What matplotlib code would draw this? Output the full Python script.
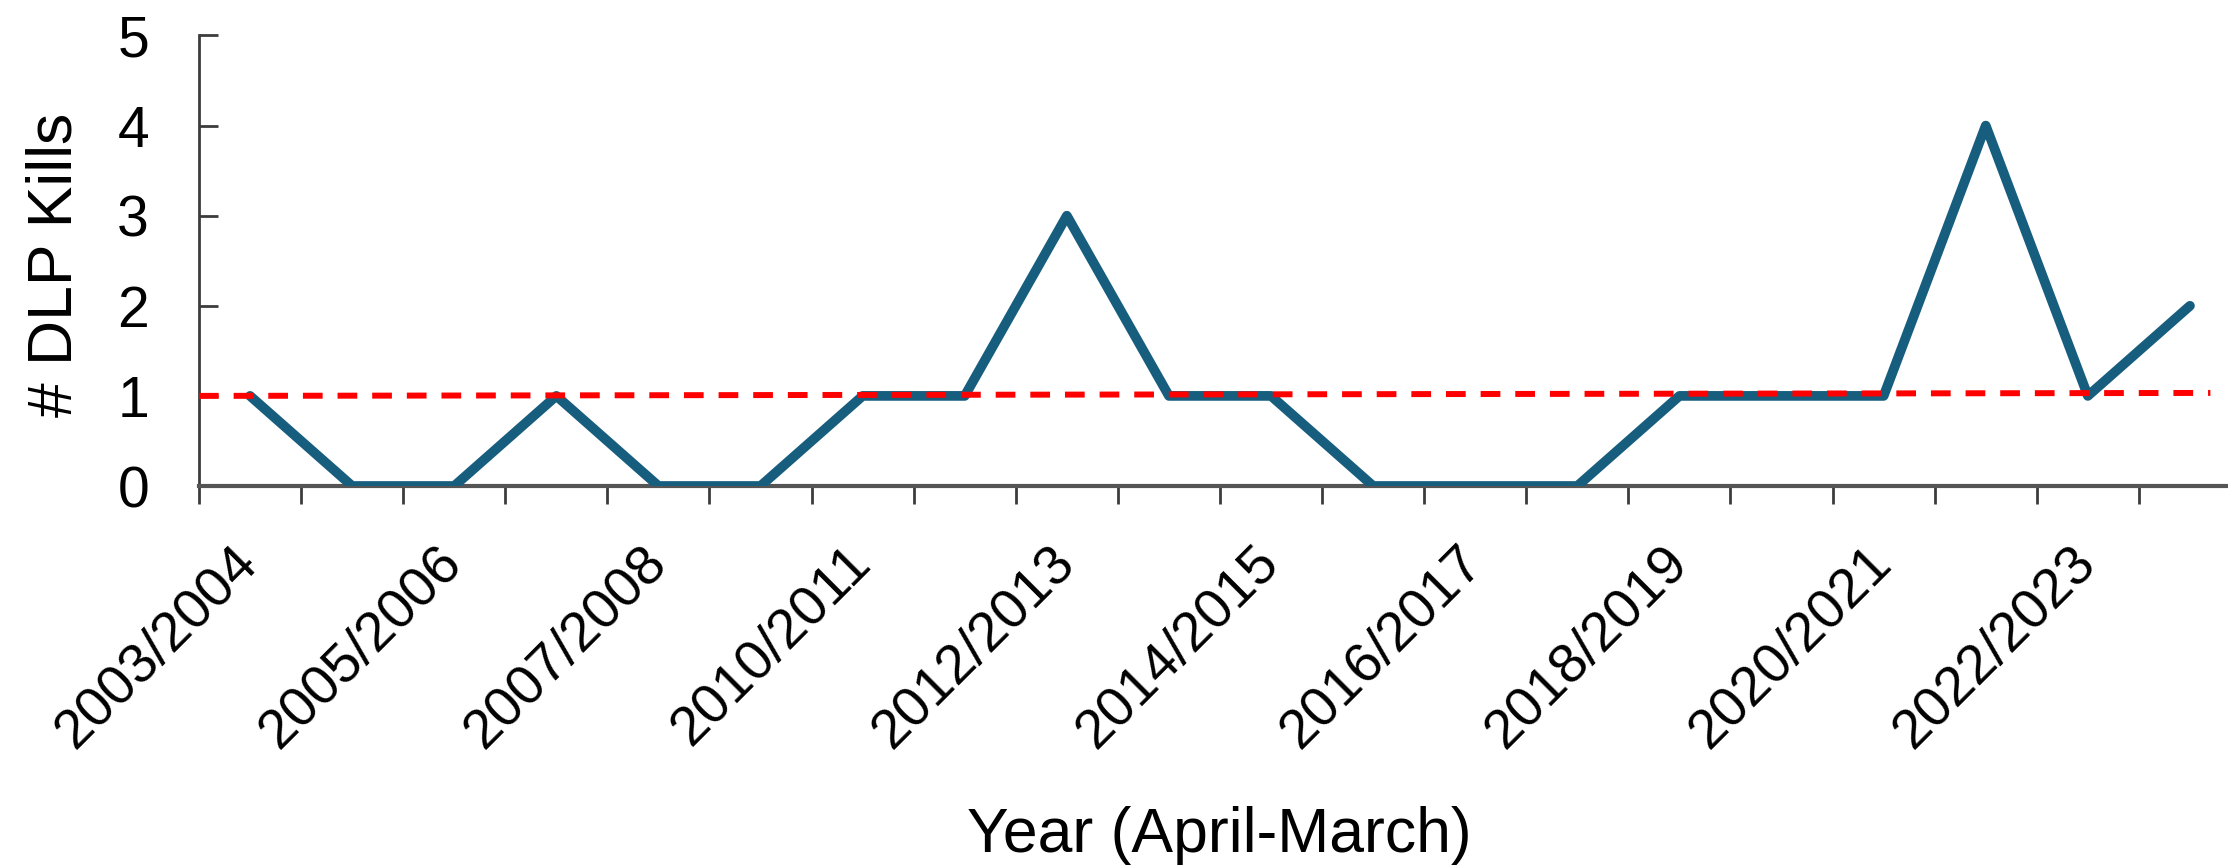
import matplotlib
matplotlib.use("Agg")
import matplotlib.pyplot as plt
import numpy as np

# fiscal years (April-March); one year in 2008-2010 is absent from the source series
years = [
    "2003/2004", "2004/2005", "2005/2006", "2006/2007", "2007/2008",
    "2009/2010", "2010/2011", "2011/2012", "2012/2013", "2013/2014",
    "2014/2015", "2015/2016", "2016/2017", "2017/2018", "2018/2019",
    "2019/2020", "2020/2021", "2021/2022", "2022/2023", "2023/2024",
]
dlp_kills = [1, 0, 0, 1, 0, 0, 1, 1, 3, 1, 1, 0, 0, 0, 1, 1, 1, 4, 1, 2]

# red dashed reference line: x span in category units, value at each end
ref_x = [-0.5, 19.2]
ref_y = [1.0, 1.033]

y_ticks = [0, 1, 2, 3, 4, 5]

FONT = "Liberation Sans"
LINE_COLOR = "#175e7e"
AXIS_COLOR = "#3c3c3c"

W, H = 2228, 867
fig = plt.figure(figsize=(W / 100, H / 100), dpi=100)
ax = fig.add_axes([199 / W, 1 - 486 / H, 2042 / W, 450.5 / H])

x = np.arange(len(years))
ax.plot(x, dlp_kills, color=LINE_COLOR, lw=7, solid_joinstyle="round",
        solid_capstyle="round", zorder=3)
ax.plot(ref_x, ref_y, color="#ff0000", lw=4.3, dashes=(3.3, 2.5), zorder=4)

ax.set_xlim(-0.5, len(years) - 0.5)
ax.set_ylim(0, 5)

ax.set_yticks(y_ticks)
ax.set_yticklabels([str(v) for v in y_ticks], fontsize=41, family=FONT)
ax.tick_params(axis="y", direction="in", length=13.5, width=2, color=AXIS_COLOR, pad=36)

# boundary ticks between categories, labels on every other year
ax.set_xticks(np.arange(-0.5, len(years), 1.0), minor=True)
ax.set_xticks(x[::2])
ax.set_xticklabels(years[::2], rotation=45, ha="right", va="center",
                   rotation_mode="anchor", fontsize=40, family=FONT)
ax.tick_params(axis="x", which="major", length=0, pad=50)
ax.tick_params(axis="x", which="minor", direction="out", length=13, width=2, color=AXIS_COLOR)

for side in ["top", "right"]:
    ax.spines[side].set_visible(False)
ax.spines["left"].set_color(AXIS_COLOR)
ax.spines["left"].set_linewidth(2)
ax.spines["bottom"].set_color("#555555")
ax.spines["bottom"].set_linewidth(3)

fig.text(55 / W, 1 - 265 / H, "# DLP Kills", rotation=90, ha="center", va="center",
         fontsize=45, family=FONT)
fig.text(1219 / W, 1 - 852 / H, "Year (April-March)", ha="center", va="baseline",
         fontsize=45, family=FONT)

fig.savefig("out.png", dpi=100)
